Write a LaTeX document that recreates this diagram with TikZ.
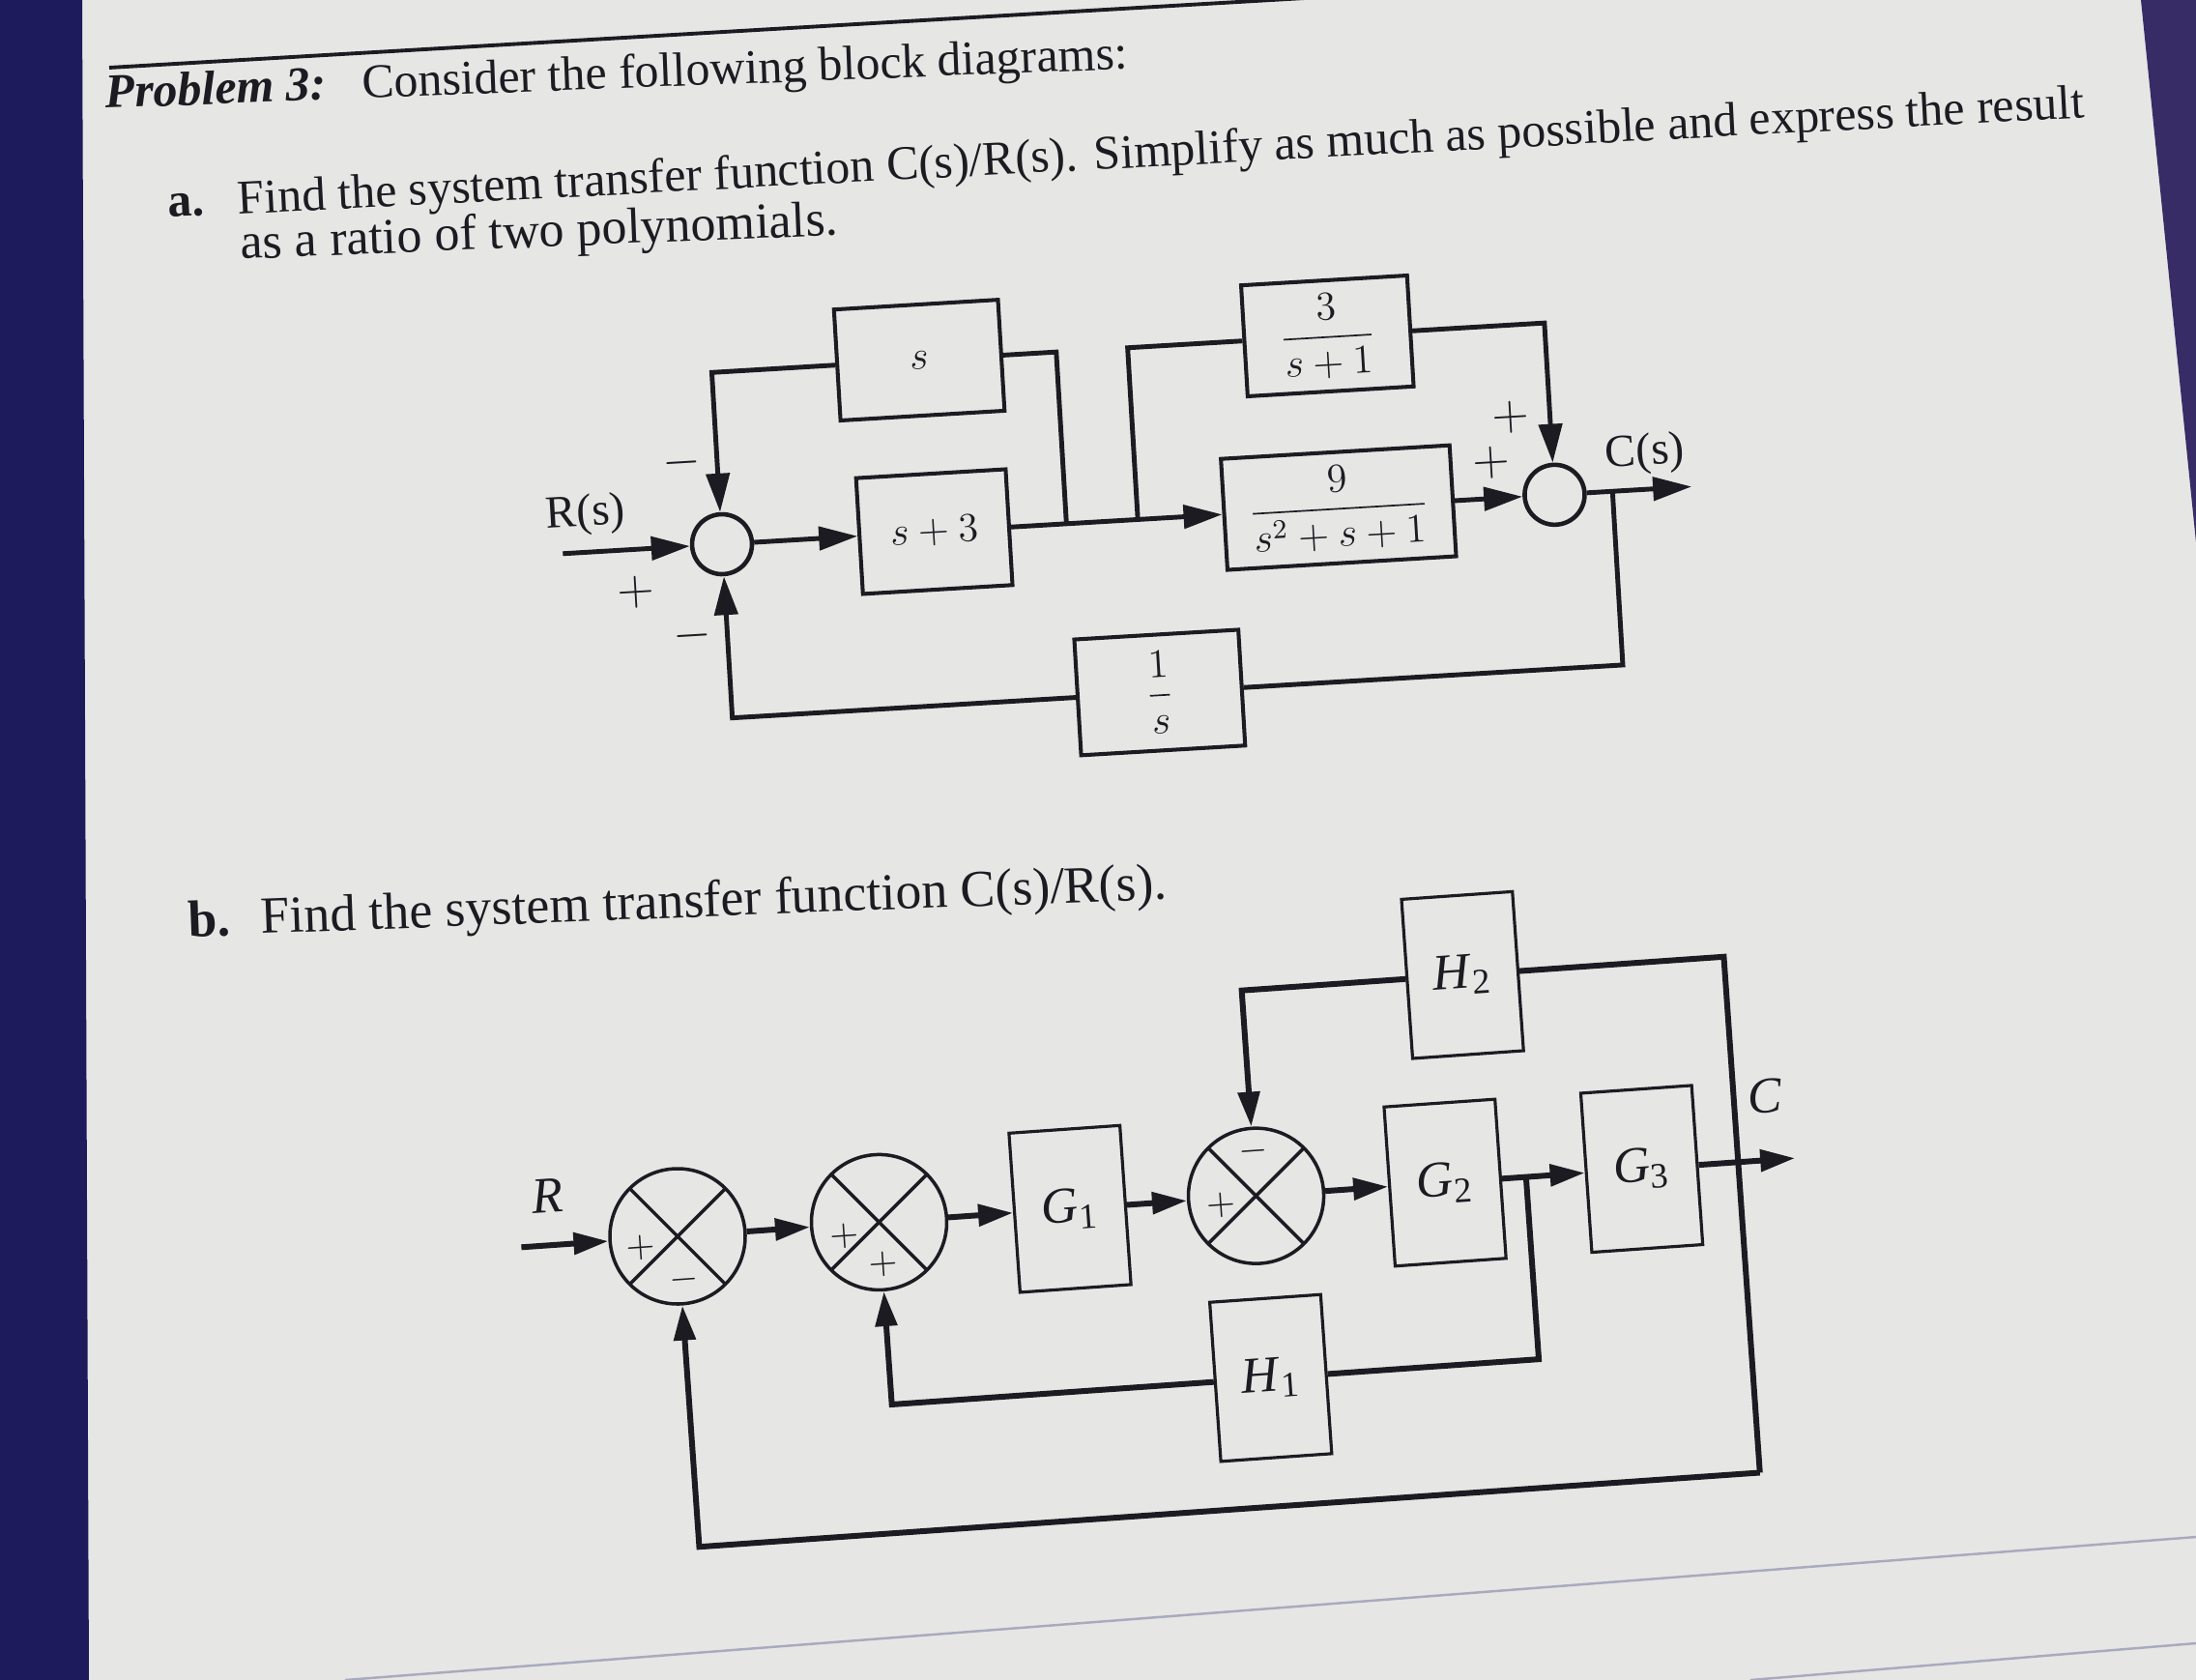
\documentclass[tikz,border=0pt]{standalone}
\usepackage{amsmath}
\usepackage{fontspec}
\setmainfont{Liberation Serif}
\usetikzlibrary{arrows.meta}
\definecolor{ink}{HTML}{1C1B22}
\definecolor{pageGray}{HTML}{E6E6E4}
\definecolor{bezelBlue}{HTML}{1D1B5B}
\definecolor{bezelViolet}{HTML}{372C66}
\definecolor{ruleGray}{HTML}{A9AABF}
\tikzset{
  body text/.style={
    font=\fontsize{14.2}{17}\selectfont,
    text=ink,
    inner sep=0pt
  },
  block a/.style={
    draw=ink,
    line width=1.15pt,
    minimum height=1.15cm,
    inner sep=0pt,
    text=ink,
    font=\fontsize{12}{14}\selectfont
  },
  sum a/.style={
    circle,
    draw=ink,
    line width=1.3pt,
    minimum size=0.62cm,
    inner sep=0pt
  },
  signal a/.style={
    draw=ink,
    line width=1.4pt
  },
  flow a/.style={
    signal a,
    -{Triangle[length=4mm,width=2.4mm]}
  },
  sign a/.style={
    font=\fontsize{15}{15}\selectfont,
    text=ink,
    inner sep=0pt
  },
  label a/.style={
    font=\fontsize{13.5}{15}\selectfont,
    text=ink,
    inner sep=0pt
  },
  block b/.style={
    draw=ink,
    line width=0.9pt,
    minimum width=1.15cm,
    minimum height=1.65cm,
    inner sep=0pt,
    text=ink,
    font=\fontsize{15}{17}\selectfont
  },
  sum b/.style={
    circle,
    draw=ink,
    line width=1pt,
    minimum size=1.4cm,
    inner sep=0pt,
    path picture={
      \draw[ink,line width=1pt]
        (path picture bounding box.north west) -- (path picture bounding box.south east)
        (path picture bounding box.north east) -- (path picture bounding box.south west);
    }
  },
  signal b/.style={
    draw=ink,
    line width=1.7pt
  },
  flow b/.style={
    signal b,
    -{Triangle[length=3.6mm,width=2.2mm]}
  },
  sign b/.style={
    font=\fontsize{11}{11}\selectfont,
    text=ink,
    inner sep=0pt
  },
  label b/.style={
    font=\fontsize{15}{17}\selectfont\itshape,
    text=ink,
    inner sep=0pt
  }
}

\begin{document}
\begin{tikzpicture}
  \useasboundingbox (0,0) rectangle (22.72,-17.38);

  % screen and page
  \fill[pageGray] (0,0) rectangle (22.72,-17.38);
  \fill[bezelBlue] (0,0) -- (0.85,0) -- (0.92,-17.38) -- (0,-17.38) -- cycle;
  \fill[bezelViolet] (22.15,0) -- (22.72,0) -- (22.72,-5.61) -- cycle;
  \draw[ruleGray,line width=0.7pt] (3.57,-17.38) -- (22.72,-15.90);
  \draw[ruleGray,line width=0.7pt] (18.11,-17.38) -- (22.72,-17.00);
  \draw[ink,line width=1.1pt] (1.13,-0.70) -- (13.5,0.02);

  % problem text
  \node[body text,anchor=base west,rotate=2.2] (title) at (1.09,-1.12)
    {\textbf{\textit{Problem 3:}}\hspace{0.37cm}Consider the following block diagrams:};
  \node[body text,anchor=base west,rotate=3.0] (itemA) at (1.74,-2.25) {\textbf{a.}};
  \node[body text,anchor=base west,rotate=3.0] (taskA) at (2.46,-2.22)
    {Find the system transfer function C(s)/R(s). Simplify as much as possible and express the result};
  \node[body text,font=\fontsize{14.8}{17}\selectfont,anchor=base west,rotate=2.3] (taskAend) at (2.49,-2.68)
    {as a ratio of two polynomials.};
  \node[body text,font=\fontsize{15.3}{17}\selectfont,anchor=base west,rotate=2.2] (itemB) at (1.95,-9.70) {\textbf{b.}};
  \node[body text,font=\fontsize{15.3}{17}\selectfont,anchor=base west,rotate=2.2] (taskB) at (2.70,-9.66)
    {Find the system transfer function C(s)/R(s).};

  % diagram a
  \begin{scope}[shift={(7.47,-5.63)},rotate=3.4,transform shape]
    \node[sum a] (sumIn) at (0,0) {};
    \node[block a,minimum width=1.55cm,minimum height=1.2cm] (blkPlus3) at (2.2,0) {$s+3$};
    \node[block a,minimum width=1.7cm] (blkS) at (2.15,1.78) {$s$};
    \node[block a,minimum width=1.72cm] (blkLead) at (6.38,1.78) {$\dfrac{3}{s+1}$};
    \node[block a,minimum width=2.37cm] (blkPlant) at (6.39,0) {$\dfrac{9}{s^2+s+1}$};
    \node[sum a] (sumOut) at (8.63,0) {};
    \node[block a,minimum width=1.7cm,minimum height=1.2cm] (blkInt) at (4.43,-1.8) {$\dfrac{1}{s}$};

    \coordinate (rIn) at (-1.65,0);
    \coordinate (cOut) at (10.05,0);
    \coordinate (tapS) at (3.57,0);
    \coordinate (tapSUp) at (3.57,1.78);
    \coordinate (sTurn) at (0,1.78);
    \coordinate (tapLead) at (4.31,0);
    \coordinate (tapLeadUp) at (4.31,1.78);
    \coordinate (leadTurn) at (8.63,1.78);
    \coordinate (tapOut) at (9.23,0);
    \coordinate (tapOutDown) at (9.23,-1.8);
    \coordinate (intTurn) at (0,-1.8);

    \node[label a] (lblR) at (-1.39,0.39) {R(s)};
    \node[label a] (lblC) at (9.59,0.37) {C(s)};
    \node[sign a] at (-0.92,-0.44) {$+$};
    \node[sign a] at (-0.37,0.87) {$-$};
    \node[sign a] at (-0.36,-0.93) {$-$};
    \node[sign a] at (8.22,0.83) {$+$};
    \node[sign a] at (8.0,0.37) {$+$};

    \draw[flow a] (rIn) -- (sumIn.west);
    \draw[flow a] (sumIn.east) -- (blkPlus3.west);
    \draw[flow a] (blkPlus3.east) -- (blkPlant.west);
    \draw[signal a] (tapS) -- (tapSUp) -- (blkS.east);
    \draw[flow a] (blkS.west) -- (sTurn) -- (sumIn.north);
    \draw[signal a] (tapLead) -- (tapLeadUp) -- (blkLead.west);
    \draw[flow a] (blkLead.east) -- (leadTurn) -- (sumOut.north);
    \draw[flow a] (blkPlant.east) -- (sumOut.west);
    \draw[flow a] (sumOut.east) -- (cOut);
    \draw[signal a] (tapOut) -- (tapOutDown) -- (blkInt.east);
    \draw[flow a] (blkInt.west) -- (intTurn) -- (sumIn.south);
  \end{scope}

  % diagram b
  \begin{scope}[shift={(7.01,-12.79)},rotate=4,transform shape]
    \node[sum b] (sumOne) at (0,0) {};
    \node[sum b] (sumTwo) at (2.09,0) {};
    \node[block b] (blkG1) at (4.07,0) {\textit{G}\textsubscript{1}};
    \node[sum b] (sumThree) at (6.0,0) {};
    \node[block b] (blkG2) at (7.96,0) {\textit{G}\textsubscript{2}};
    \node[block b] (blkG3) at (10.0,0) {\textit{G}\textsubscript{3}};
    \node[block b] (blkH2) at (8.29,2.13) {\textit{H}\textsubscript{2}};
    \node[block b] (blkH1) at (6.02,-1.89) {\textit{H}\textsubscript{1}};

    \coordinate (rB) at (-1.62,0);
    \coordinate (cB) at (11.59,0);
    \coordinate (tapH1) at (8.8,0);
    \coordinate (tapH1Down) at (8.8,-1.89);
    \coordinate (h1Turn) at (2.09,-1.89);
    \coordinate (tapCUp) at (11.0,2.13);
    \coordinate (tapCDown) at (11.0,-3.22);
    \coordinate (h2Turn) at (6.0,2.13);
    \coordinate (loopTurn) at (0,-3.22);

    \node[label b] (lblRB) at (-1.31,0.51) {R};
    \node[label b] (lblCB) at (11.32,0.66) {C};
    \node[sign b] at (-0.39,-0.09) {$+$};
    \node[sign b] at (0.04,-0.45) {$-$};
    \node[sign b] at (1.72,-0.12) {$+$};
    \node[sign b] at (2.1,-0.44) {$+$};
    \node[sign b] at (6.0,0.46) {$-$};
    \node[sign b] at (5.63,-0.07) {$+$};

    \draw[flow b] (rB) -- (sumOne.west);
    \draw[flow b] (sumOne.east) -- (sumTwo.west);
    \draw[flow b] (sumTwo.east) -- (blkG1.west);
    \draw[flow b] (blkG1.east) -- (sumThree.west);
    \draw[flow b] (sumThree.east) -- (blkG2.west);
    \draw[flow b] (blkG2.east) -- (blkG3.west);
    \draw[flow b] (blkG3.east) -- (cB);
    \draw[signal b] (tapH1) -- (tapH1Down) -- (blkH1.east);
    \draw[flow b] (blkH1.west) -- (h1Turn) -- (sumTwo.south);
    \draw[signal b] (tapCDown) -- (tapCUp) -- (blkH2.east);
    \draw[flow b] (blkH2.west) -- (h2Turn) -- (sumThree.north);
    \draw[flow b] (tapCDown) -- (loopTurn) -- (sumOne.south);
  \end{scope}
\end{tikzpicture}
\end{document}
